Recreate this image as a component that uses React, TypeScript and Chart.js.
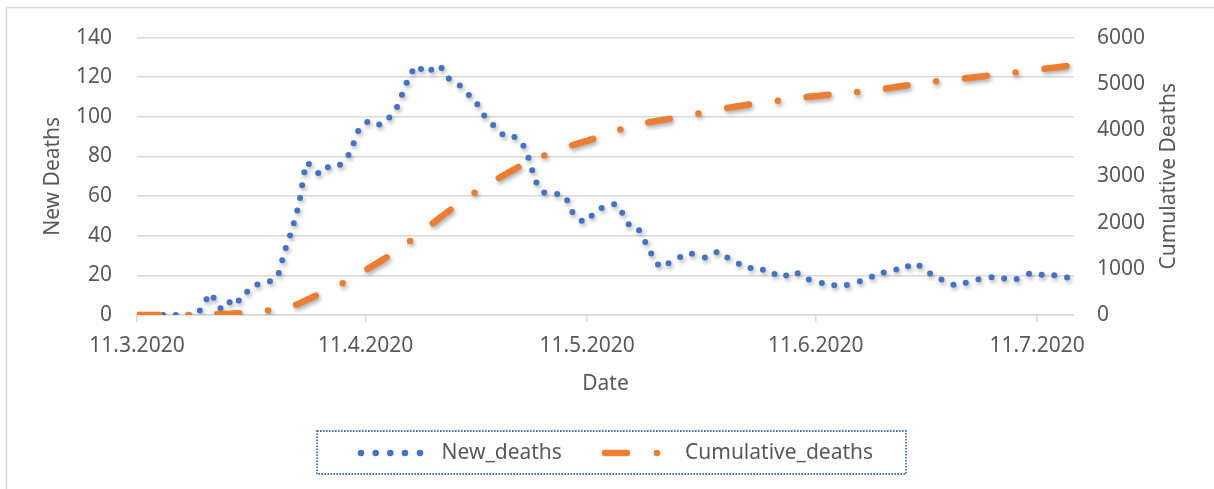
import React, { useEffect, useRef } from "react";
import { Chart, registerables } from "chart.js";

Chart.register(...registerables);

// Daily series, day 0 = 11.3.2020 ... day 127 = 16.7.2020
const NEW_DEATHS = [
  0, 0, 0, 0, 0, 0, 0, 0, 0, 5,
  11, 4, 3, 9, 7, 12, 15, 16, 17, 19,
  32, 43, 57, 77, 73, 71, 75, 75, 77, 83,
  93, 97, 98, 96, 99, 103, 112, 121, 126, 122,
  124, 126, 120, 118, 115, 111, 107, 101, 97, 93,
  90, 90, 88, 80, 68, 62, 62, 61, 60, 52,
  48, 47, 52, 54, 55, 56, 50, 44, 43, 36,
  29, 24, 26, 28, 30, 31, 30, 29, 31, 32,
  29, 27, 25, 24, 22, 23, 22, 19, 20, 22,
  20, 18, 17, 16, 15, 15, 15, 16, 17, 18,
  20, 21, 23, 23, 23, 26, 25, 22, 20, 18,
  16, 15, 16, 17, 18, 19, 19, 19, 18, 18,
  19, 21, 21, 20, 20, 20, 19, 19,
];

const CUMULATIVE_DEATHS = [
  0, 0, 0, 0, 0, 0, 0, 0, 0, 5,
  16, 20, 23, 32, 39, 51, 66, 82, 99, 118,
  150, 193, 250, 327, 400, 471, 546, 621, 698, 781,
  874, 971, 1069, 1165, 1264, 1367, 1479, 1600, 1726, 1848,
  1972, 2098, 2218, 2336, 2451, 2562, 2669, 2770, 2867, 2960,
  3050, 3140, 3228, 3308, 3376, 3438, 3500, 3561, 3621, 3673,
  3721, 3768, 3820, 3874, 3929, 3985, 4035, 4079, 4122, 4158,
  4187, 4211, 4237, 4265, 4295, 4326, 4356, 4385, 4416, 4448,
  4477, 4504, 4529, 4553, 4575, 4598, 4620, 4639, 4659, 4681,
  4701, 4719, 4736, 4752, 4767, 4782, 4797, 4813, 4830, 4848,
  4868, 4889, 4912, 4935, 4958, 4984, 5009, 5031, 5051, 5069,
  5085, 5100, 5116, 5133, 5151, 5170, 5189, 5208, 5226, 5244,
  5263, 5284, 5305, 5325, 5345, 5365, 5384, 5403,
];

const X_TICK_DAYS = [0, 31, 61, 92, 122];
const X_TICK_LABELS = ["11.3.2020", "11.4.2020", "11.5.2020", "11.6.2020", "11.7.2020"];
const SERIES_NAMES = ["New_deaths", "Cumulative_deaths"];
const AXIS_TITLES = { x: "Date", left: "New Deaths", right: "Cumulative Deaths" };
const LEFT_RANGE = { min: 0, max: 140, step: 20 };
const RIGHT_RANGE = { min: 0, max: 6000, step: 1000 };

const BLUE = "#4472C4";
const ORANGE = "#ED7D31";
const TEXT = "#595959";
const GRID = "#d9d9d9";
const FONT = "'Noto Sans', sans-serif";

const decorPlugin = {
  id: "decor",
  beforeDraw(chart: any) {
    const ctx = chart.ctx;
    ctx.save();
    ctx.strokeStyle = GRID;
    ctx.lineWidth = 1.5;
    ctx.beginPath();
    ctx.moveTo(6.5, 489);
    ctx.lineTo(6.5, 7.5);
    ctx.lineTo(1214, 7.5);
    ctx.stroke();
    ctx.restore();
  },
  beforeDatasetDraw(chart: any) {
    const ctx = chart.ctx;
    ctx.save();
    ctx.shadowColor = "rgba(0,0,0,0.32)";
    ctx.shadowBlur = 4;
    ctx.shadowOffsetX = 1.5;
    ctx.shadowOffsetY = 2.5;
  },
  afterDatasetDraw(chart: any) {
    chart.ctx.restore();
  },
  afterDraw(chart: any) {
    const ctx = chart.ctx;
    const area = chart.chartArea;
    ctx.save();
    // right axis title, reading bottom to top
    ctx.fillStyle = TEXT;
    ctx.font = `21px ${FONT}`;
    ctx.textAlign = "center";
    ctx.textBaseline = "middle";
    ctx.translate(1169, (area.top + area.bottom) / 2);
    ctx.rotate(-Math.PI / 2);
    ctx.fillText(AXIS_TITLES.right, 0, 0);
    ctx.restore();

    ctx.save();
    // legend frame
    ctx.strokeStyle = BLUE;
    ctx.lineWidth = 1.8;
    ctx.setLineDash([1.6, 1.4]);
    ctx.strokeRect(317, 431, 589, 43);
    ctx.setLineDash([]);
    const cy = 453;
    // blue dots sample
    ctx.fillStyle = BLUE;
    [361, 375.7, 390.3, 405, 420].forEach((x) => {
      ctx.beginPath();
      ctx.arc(x, cy, 3.3, 0, Math.PI * 2);
      ctx.fill();
    });
    // orange dash-dot sample
    ctx.strokeStyle = ORANGE;
    ctx.lineWidth = 6.5;
    ctx.lineCap = "round";
    ctx.beginPath();
    ctx.moveTo(605, cy);
    ctx.lineTo(627, cy);
    ctx.stroke();
    ctx.fillStyle = ORANGE;
    ctx.beginPath();
    ctx.arc(657, cy, 3.3, 0, Math.PI * 2);
    ctx.fill();
    // labels
    ctx.fillStyle = TEXT;
    ctx.font = `21px ${FONT}`;
    ctx.textBaseline = "middle";
    ctx.textAlign = "left";
    ctx.fillText(SERIES_NAMES[0], 441.5, cy);
    ctx.fillText(SERIES_NAMES[1], 685, cy);
    ctx.restore();
  },
};

export default function App() {
  const canvasRef = useRef<HTMLCanvasElement | null>(null);

  useEffect(() => {
    document.body.style.margin = "0";
    document.body.style.overflow = "hidden";
    const canvas = canvasRef.current;
    if (!canvas) return;

    Chart.defaults.font.family = FONT;
    Chart.defaults.font.size = 21;
    Chart.defaults.color = TEXT;

    const chart = new Chart(canvas, {
      type: "line",
      data: {
        datasets: [
          {
            label: SERIES_NAMES[0],
            data: NEW_DEATHS.map((v, i) => ({ x: i, y: v })),
            yAxisID: "y",
            borderColor: BLUE,
            backgroundColor: BLUE,
            borderWidth: 6,
            borderDash: [0, 13],
            borderCapStyle: "round",
            borderJoinStyle: "round",
            pointRadius: 0,
            tension: 0.2,
            order: 2,
          },
          {
            label: SERIES_NAMES[1],
            data: CUMULATIVE_DEATHS.map((v, i) => ({ x: i, y: v })),
            yAxisID: "y1",
            borderColor: ORANGE,
            backgroundColor: ORANGE,
            borderWidth: 6.5,
            borderDash: [22, 29, 0, 29],
            borderCapStyle: "round",
            borderJoinStyle: "round",
            pointRadius: 0,
            tension: 0.2,
            order: 1,
          },
        ],
      },
      options: {
        responsive: false,
        animation: false,
        layout: { padding: { top: 37, bottom: 80, left: 0, right: 0 } },
        plugins: { legend: { display: false }, tooltip: { enabled: false } },
        scales: {
          x: {
            type: "linear",
            min: 0,
            max: NEW_DEATHS.length - 1,
            afterBuildTicks: (scale: any) => {
              scale.ticks = X_TICK_DAYS.map((v) => ({ value: v }));
            },
            afterFit: (scale: any) => {
              scale.height = 94;
            },
            ticks: {
              autoSkip: false,
              maxRotation: 0,
              padding: 11.4,
              callback: (v: any) => {
                const i = X_TICK_DAYS.indexOf(Number(v));
                return i >= 0 ? X_TICK_LABELS[i] : "";
              },
            },
            grid: {
              drawOnChartArea: false,
              drawTicks: true,
              tickLength: 7,
              color: GRID,
              lineWidth: 1.5,
            },
            border: { display: true, color: GRID, width: 1.5 },
            title: {
              display: true,
              text: AXIS_TITLES.x,
              padding: { top: 0, bottom: 12.4 },
            },
          },
          y: {
            position: "left",
            min: LEFT_RANGE.min,
            max: LEFT_RANGE.max,
            afterFit: (scale: any) => {
              scale.width = 137;
            },
            ticks: { stepSize: LEFT_RANGE.step, padding: 25, callback: (v: any) => String(v) },
            grid: { color: GRID, lineWidth: 1.5, drawTicks: false },
            border: { display: false },
            title: {
              display: true,
              text: AXIS_TITLES.left,
              padding: { top: 40.4, bottom: 0 },
            },
          },
          y1: {
            position: "right",
            min: RIGHT_RANGE.min,
            max: RIGHT_RANGE.max,
            afterFit: (scale: any) => {
              scale.width = 140;
            },
            ticks: { stepSize: RIGHT_RANGE.step, padding: 23, callback: (v: any) => String(v) },
            grid: { drawOnChartArea: false, drawTicks: false },
            border: { display: false },
            title: { display: false },
          },
        },
      },
      plugins: [decorPlugin],
    } as any);

    return () => chart.destroy();
  }, []);

  return (
    <div style={{ width: 1214, height: 489 }}>
      <canvas ref={canvasRef} width={1214} height={489} />
    </div>
  );
}
